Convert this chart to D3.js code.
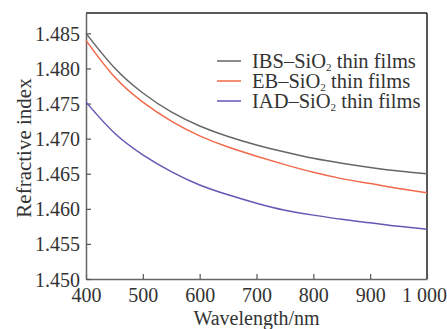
<!DOCTYPE html>
<html>
<head>
<meta charset="utf-8">
<script src="https://cdn.jsdelivr.net/npm/d3@7"></script>
<style>
  body { margin: 0; background: #fff; }
  text { font-family: "Liberation Serif", "Times New Roman", serif; fill: #333; }
</style>
</head>
<body>
<div id="graf"></div>
<script>
// datos
wavelengths = [400, 450, 500, 550, 600, 650, 700, 750, 800, 850, 900, 950, 1000]
ibs = [1.4850, 1.4801, 1.4765, 1.4738, 1.4718, 1.4703, 1.4691, 1.4681, 1.4672, 1.4665, 1.4659, 1.4654, 1.4650]
eb  = [1.4840, 1.4788, 1.4752, 1.4725, 1.4704, 1.4688, 1.4675, 1.4663, 1.4652, 1.4643, 1.4636, 1.4629, 1.4623]
iad = [1.4752, 1.4708, 1.4677, 1.4653, 1.4634, 1.4620, 1.4608, 1.4598, 1.4591, 1.4585, 1.4580, 1.4575, 1.4571]
xTicks = [400, 500, 600, 700, 800, 900, 1000]
xTickLabels = ['400', '500', '600', '700', '800', '900', '1 000']
yTicks = [1.450, 1.455, 1.460, 1.465, 1.470, 1.475, 1.480, 1.485]
seriesNames = ['IBS', 'EB', 'IAD']
seriesColors = ['#666666', '#f2694a', '#6a55b5']

ancho_total = 447
alto_total = 329
margins = { top: 13, left: 86, right: 20, bottom: 50 }
ancho = ancho_total - margins.left - margins.right
alto = alto_total - margins.top - margins.bottom

svg = d3.select('#graf').append('svg')
  .attr('width', ancho_total)
  .attr('height', alto_total)

g = svg.append('g')
  .attr('transform', `translate(${margins.left}, ${margins.top})`)

x = d3.scaleLinear().domain([400, 1000]).range([0, ancho])
y = d3.scaleLinear().domain([1.450, 1.4879]).range([alto, 0])

// marco
g.append('line').attr('x1', 0).attr('x2', ancho).attr('y1', 0).attr('y2', 0)
  .attr('stroke', '#222').attr('stroke-width', 1.5)
g.append('line').attr('x1', ancho).attr('x2', ancho).attr('y1', 0).attr('y2', alto)
  .attr('stroke', '#222').attr('stroke-width', 1.5)

// ejes
xAxis = g.append('g')
  .attr('transform', `translate(0,${alto})`)
  .call(d3.axisBottom(x).tickValues(xTicks).tickSizeInner(-5).tickSizeOuter(0)
    .tickFormat((d, i) => xTickLabels[i]).tickPadding(9))
yAxis = g.append('g')
  .call(d3.axisLeft(y).tickValues(yTicks).tickSizeInner(-5).tickSizeOuter(0)
    .tickFormat(d3.format('.3f')).tickPadding(6))

;[xAxis, yAxis].forEach(ax => {
  ax.select('.domain').attr('stroke', '#666').attr('stroke-width', 1.5)
  ax.selectAll('.tick line').attr('stroke', '#555').attr('stroke-width', 1.2)
  ax.selectAll('.tick text')
    .attr('font-family', '"Liberation Serif", serif')
    .attr('font-size', 20).attr('fill', '#333')
})
xAxis.selectAll('.tick text').attr('dy', '0.71em')
// la etiqueta "1 000" queda desplazada a la izquierda para no cortarse
xAxis.selectAll('.tick text').filter(d => d === 1000).attr('x', -3)
yAxis.selectAll('.tick text').attr('dy', '0.35em')

// líneas
line = d3.line()
  .x((d, i) => x(wavelengths[i]))
  .y(d => y(d))
  .curve(d3.curveNatural)

;[ibs, eb, iad].forEach((serie, k) => {
  g.append('path')
    .attr('fill', 'none')
    .attr('stroke', seriesColors[k])
    .attr('stroke-width', 1.5)
    .attr('d', line(serie))
})

// leyenda
leyenda = svg.append('g')
seriesNames.forEach((name, k) => {
  yy = 61 + k * 20
  leyenda.append('line')
    .attr('x1', 217).attr('x2', 241).attr('y1', yy).attr('y2', yy)
    .attr('stroke', seriesColors[k]).attr('stroke-width', 1.5)
  t = leyenda.append('text')
    .attr('x', 252).attr('y', yy + 7)
    .attr('font-size', 20.5)
  t.append('tspan').text(name + '–SiO')
  t.append('tspan').text('2').attr('font-size', 11).attr('dy', 3)
  t.append('tspan').text(' thin films').attr('dy', -3)
})

// títulos
svg.append('text')
  .attr('x', margins.left + ancho / 2)
  .attr('y', 325)
  .attr('text-anchor', 'middle')
  .attr('font-size', 20)
  .text('Wavelength/nm')
svg.append('text')
  .attr('transform', 'translate(31, 148) rotate(-90)')
  .attr('text-anchor', 'middle')
  .attr('font-size', 21)
  .text('Refractive index')
</script>
</body>
</html>
